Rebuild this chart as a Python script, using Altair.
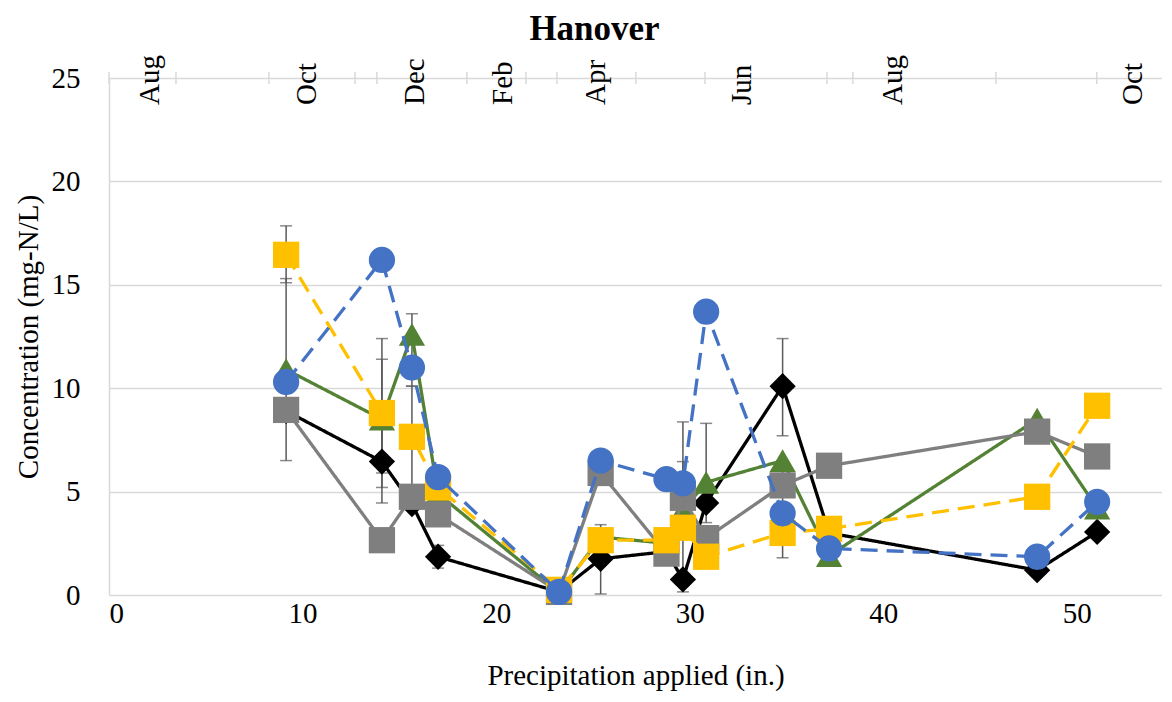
import altair as alt
import pandas as pd

# ---- data ----
precip = [9.15, 14.1, 15.65, 17.0, 23.25, 25.4, 28.8, 29.65, 30.85, 34.8, 37.2, 47.95, 51.05]

series_names = ["Series 1", "Series 2", "Series 3", "Series 4", "Series 5"]
s1_black = [8.9, 6.45, 4.4, 1.85, 0.15, 1.75, 2.1, 0.75, 4.45, 10.1, 3.0, 1.2, 3.05]
s2_green = [10.9, 8.5, 12.6, 4.9, 0.1, 2.8, 2.5, 4.1, 5.45, 6.5, 1.9, 8.5, 4.2]
s3_gray = [8.95, 2.65, 4.75, 3.9, 0.15, 5.9, 2.0, 4.7, 2.75, 5.3, 6.25, 7.9, 6.7]
s4_yellow = [16.45, 8.8, 7.65, 5.2, 0.25, 2.65, 2.65, 3.25, 1.85, 3.0, 3.2, 4.75, 9.15]
s5_blue = [10.3, 16.2, 11.0, 5.7, 0.15, 6.5, 5.6, 5.4, 13.7, 3.95, 2.25, 1.85, 4.5]

err_x = [9.15, 9.15, 14.1, 14.1, 14.1, 15.65, 15.65, 17.0, 25.4, 29.65, 29.65, 30.85, 34.8, 34.8]
err_lo = [6.5, 15.1, 4.45, 5.2, 5.9, 10.1, 4.75, 1.3, 0.05, 0.15, 3.3, 3.5, 7.7, 1.8]
err_hi = [15.3, 17.85, 12.4, 11.4, 8.8, 13.6, 10.1, 2.4, 3.4, 6.45, 8.37, 8.3, 12.4, 6.5]

top_ticks = [0, 3.46, 8.26, 12.71, 13.84, 18.49, 21.54, 23.14, 27.22, 30.79, 37.09, 38.43, 45.82, 51.03]
months = ["Aug", "Oct", "Dec", "Feb", "Apr", "Jun", "Aug", "Oct"]
month_pos = [2.12, 10.23, 15.8, 20.35, 25.15, 32.7, 40.5, 52.9]

x_ticks = [0, 10, 20, 30, 40, 50]
y_ticks = [0, 5, 10, 15, 20, 25]

styles = [
    ("#000000", "diamond", [1, 0]),
    ("#548235", "triangle-up", [1, 0]),
    ("#7f7f7f", "square", [1, 0]),
    ("#FFC000", "square", [17, 9]),
    ("#4472C4", "circle", [17, 9]),
]
series_values = [s1_black, s2_green, s3_gray, s4_yellow, s5_blue]

FONT = "Liberation Serif"
FS = 29

xs = alt.Scale(domain=[0, 54.4], nice=False, zero=False)
ys = alt.Scale(domain=[0, 25], nice=False)

x_enc = alt.X("x:Q", scale=xs,
              axis=alt.Axis(values=x_ticks, title="Precipitation applied (in.)", grid=False,
                            domain=False, ticks=False, labelPadding=4, titlePadding=33,
                            format="d"))
y_enc = alt.Y("y:Q", scale=ys,
              axis=alt.Axis(values=y_ticks, title="Concentration (mg-N/L)", grid=True,
                            ticks=False, labelPadding=29, titlePadding=8, domainColor="#d9d9d9",
                            domainWidth=1.5))

layers = []

# error bars
err_df = pd.DataFrame({"x": err_x, "y": err_lo, "y2": err_hi})
layers.append(alt.Chart(err_df).mark_rule(color="#595959", strokeWidth=1.5).encode(
    x=x_enc, y=y_enc, y2="y2:Q"))
cap_df = pd.DataFrame({"x": err_x + err_x, "y": err_lo + err_hi})
layers.append(alt.Chart(cap_df).mark_tick(orient="horizontal", size=12, thickness=1.5,
                                          color="#595959").encode(x="x:Q", y="y:Q"))

for name, vals, (col, shp, dash) in zip(series_names, series_values, styles):
    df = pd.DataFrame({"x": precip, "y": vals, "series": name})
    layers.append(alt.Chart(df).mark_line(color=col, strokeWidth=3.3, strokeDash=dash).encode(
        x="x:Q", y="y:Q", order="x:Q"))
    layers.append(alt.Chart(df).mark_point(shape=shp, filled=True, opacity=1, size=690,
                                           color=col).encode(x="x:Q", y="y:Q"))

# secondary (top) month axis
tick_df = pd.DataFrame({"x": top_ticks})
layers.append(alt.Chart(tick_df).mark_rule(color="#d9d9d9", strokeWidth=1.5).encode(
    x="x:Q", y=alt.value(-6), y2=alt.value(6)))
month_df = pd.DataFrame({"x": month_pos, "m": months})
layers.append(alt.Chart(month_df).mark_text(angle=270, align="left", baseline="middle",
                                            font=FONT, fontSize=FS, color="black").encode(
    x="x:Q", y=alt.value(27), text="m:N"))

chart = alt.layer(*layers).properties(
    width=1053, height=517,
    title=alt.TitleParams("Hanover", font=FONT, fontSize=35, fontWeight="bold", color="black",
                          frame="group", anchor="middle", offset=8, dx=-41),
    autosize=alt.AutoSizeParams(type="none"),
    padding={"left": 101, "top": 70, "right": 0, "bottom": 100},
).configure_axis(
    labelFont=FONT, labelFontSize=FS, labelColor="black",
    titleFont=FONT, titleFontSize=FS, titleColor="black", titleFontWeight="normal",
    gridColor="#d9d9d9", gridWidth=1.5,
).configure_view(stroke=None)

chart.save("out.html", embed_options={"renderer": "svg", "actions": False})
